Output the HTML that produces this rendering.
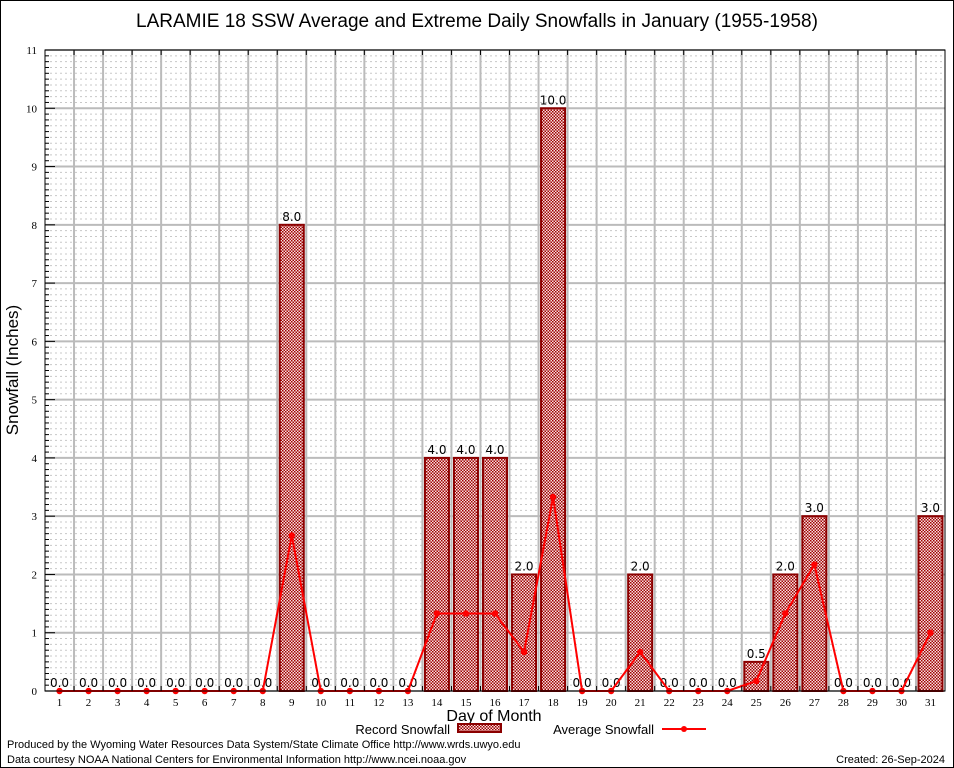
<!DOCTYPE html>
<html><head><meta charset="utf-8"><style>
body{margin:0;background:#fff;}
svg{display:block;font-family:"Liberation Sans",sans-serif;}
</style></head><body>
<svg id="c" width="954" height="768" viewBox="0 0 954 768">
<defs>
<pattern id="hatch" width="3" height="3" patternUnits="userSpaceOnUse">
<rect width="3" height="3" fill="#f6e0e0"/>
<rect width="1.5" height="1.5" fill="#a00000"/>
<rect x="1.5" y="1.5" width="1.5" height="1.5" fill="#a00000"/>
</pattern>
</defs>
<rect x="0.5" y="0.5" width="953" height="767" fill="#fff" stroke="#000"/>
<text x="477" y="27" text-anchor="middle" font-size="19">LARAMIE 18 SSW Average and Extreme Daily Snowfalls in January (1955-1958)</text>
<g id="grid"></g>
<g id="bars"></g>
<g id="line"></g>
<g id="axes"></g>
<text x="18" y="370" font-size="17" text-anchor="middle" transform="rotate(-90 18 370)">Snowfall (Inches)</text>
<text x="494" y="721" font-size="16" text-anchor="middle">Day of Month</text>
<g>
<text x="450" y="734" font-size="13" text-anchor="end">Record Snowfall</text>
<rect x="458" y="724" width="43" height="8" fill="url(#hatch)" stroke="#8b0000" stroke-width="2"/>
</g>
<g>
<text x="654" y="734" font-size="13" text-anchor="end">Average Snowfall</text>
<line x1="662" y1="729" x2="706" y2="729" stroke="#f00" stroke-width="2"/>
<circle cx="684" cy="729" r="3" fill="#f00"/>
</g>
<text x="7" y="748" font-size="11">Produced by the Wyoming Water Resources Data System/State Climate Office http://www.wrds.uwyo.edu</text>
<text x="7" y="763" font-size="11">Data courtesy NOAA National Centers for Environmental Information http://www.ncei.noaa.gov</text>
<text x="945" y="763" font-size="11" text-anchor="end">Created:  26-Sep-2024</text>
</svg>
<script>
const days=[1,2,3,4,5,6,7,8,9,10,11,12,13,14,15,16,17,18,19,20,21,22,23,24,25,26,27,28,29,30,31];
const recordSnow=[0,0,0,0,0,0,0,0,8,0,0,0,0,4,4,4,2,10,0,0,2,0,0,0,0.5,2,3,0,0,0,3];
const avgSnow=[0,0,0,0,0,0,0,0,2.67,0,0,0,0,1.33,1.33,1.33,0.67,3.33,0,0,0.67,0,0,0,0.17,1.33,2.17,0,0,0,1.0];
const yTicks=[0,1,2,3,4,5,6,7,8,9,10,11];
const NS="http://www.w3.org/2000/svg";
const L=45,R=945,T=50,B=691,yMax=11;
const step=(R-L)/31;
function x(d){return L+(d-0.5)*step;}
function y(v){return B-(v/yMax)*(B-T);}
function mk(tag,attrs,parent){const e=document.createElementNS(NS,tag);for(const k in attrs)e.setAttribute(k,attrs[k]);parent.appendChild(e);return e;}
const grid=document.getElementById('grid'),bars=document.getElementById('bars'),line=document.getElementById('line'),axes=document.getElementById('axes');
for(let i=1;i<yMax*10;i++){if(i%10===0)continue;const l=mk('line',{x1:L,x2:R,y1:y(i/10),y2:y(i/10),stroke:'#c8c8c8','stroke-dasharray':'2,3','stroke-width':1},grid);

}
yTicks.forEach(v=>{const l=mk('line',{x1:L,x2:R,y1:y(v),y2:y(v),stroke:'#bbb','stroke-width':2},grid);


const t=mk('text',{x:L-8,y:y(v)+4,'font-size':11,'text-anchor':'end','font-family':'Liberation Serif, serif'},axes);t.textContent=v;


mk('line',{x1:L,x2:L+(v%1===0?10:5),y1:y(v),y2:y(v),stroke:'#000'},axes);
for(let k=1;k<10&&v<yMax;k++){mk('line',{x1:L,x2:L+4,y1:y(v+k/10),y2:y(v+k/10),stroke:'#000'},axes);}
});
for(let i=1;i<31;i++){const xx=L+i*step;const l=mk('line',{x1:xx,x2:xx,y1:T,y2:B,stroke:'#bbb','stroke-width':2},grid);


mk('line',{x1:xx,x2:xx,y1:T,y2:T+5,stroke:'#000'},axes);mk('line',{x1:xx,x2:xx,y1:B,y2:B-5,stroke:'#000'},axes);}
days.forEach((d,i)=>{const v=recordSnow[i];
if(v>0){const r=mk('rect',{x:x(d)-12,y:y(v),width:24,height:B-y(v),fill:'url(#hatch)',stroke:'#8b0000','stroke-width':2},bars);

}
const t=mk('text',{x:x(d),y:y(v)-4,'font-size':12,'text-anchor':'middle','font-family':'DejaVu Sans, sans-serif'},bars);t.textContent=v.toFixed(1);


const tl=mk('text',{x:x(d),y:B+15,'font-size':11,'text-anchor':'middle','font-family':'Liberation Serif, serif'},axes);tl.textContent=d;

});
const p=mk('polyline',{points:days.map((d,i)=>x(d)+','+y(avgSnow[i])).join(' '),fill:'none',stroke:'#f00','stroke-width':2},line);


days.forEach((d,i)=>{const c=mk('circle',{cx:x(d),cy:y(avgSnow[i]),r:3.2,fill:'#f00'},line);

});
const f=mk('rect',{x:L,y:T,width:R-L,height:B-T,fill:'none',stroke:'#000'},axes);


</script>
</body></html>
